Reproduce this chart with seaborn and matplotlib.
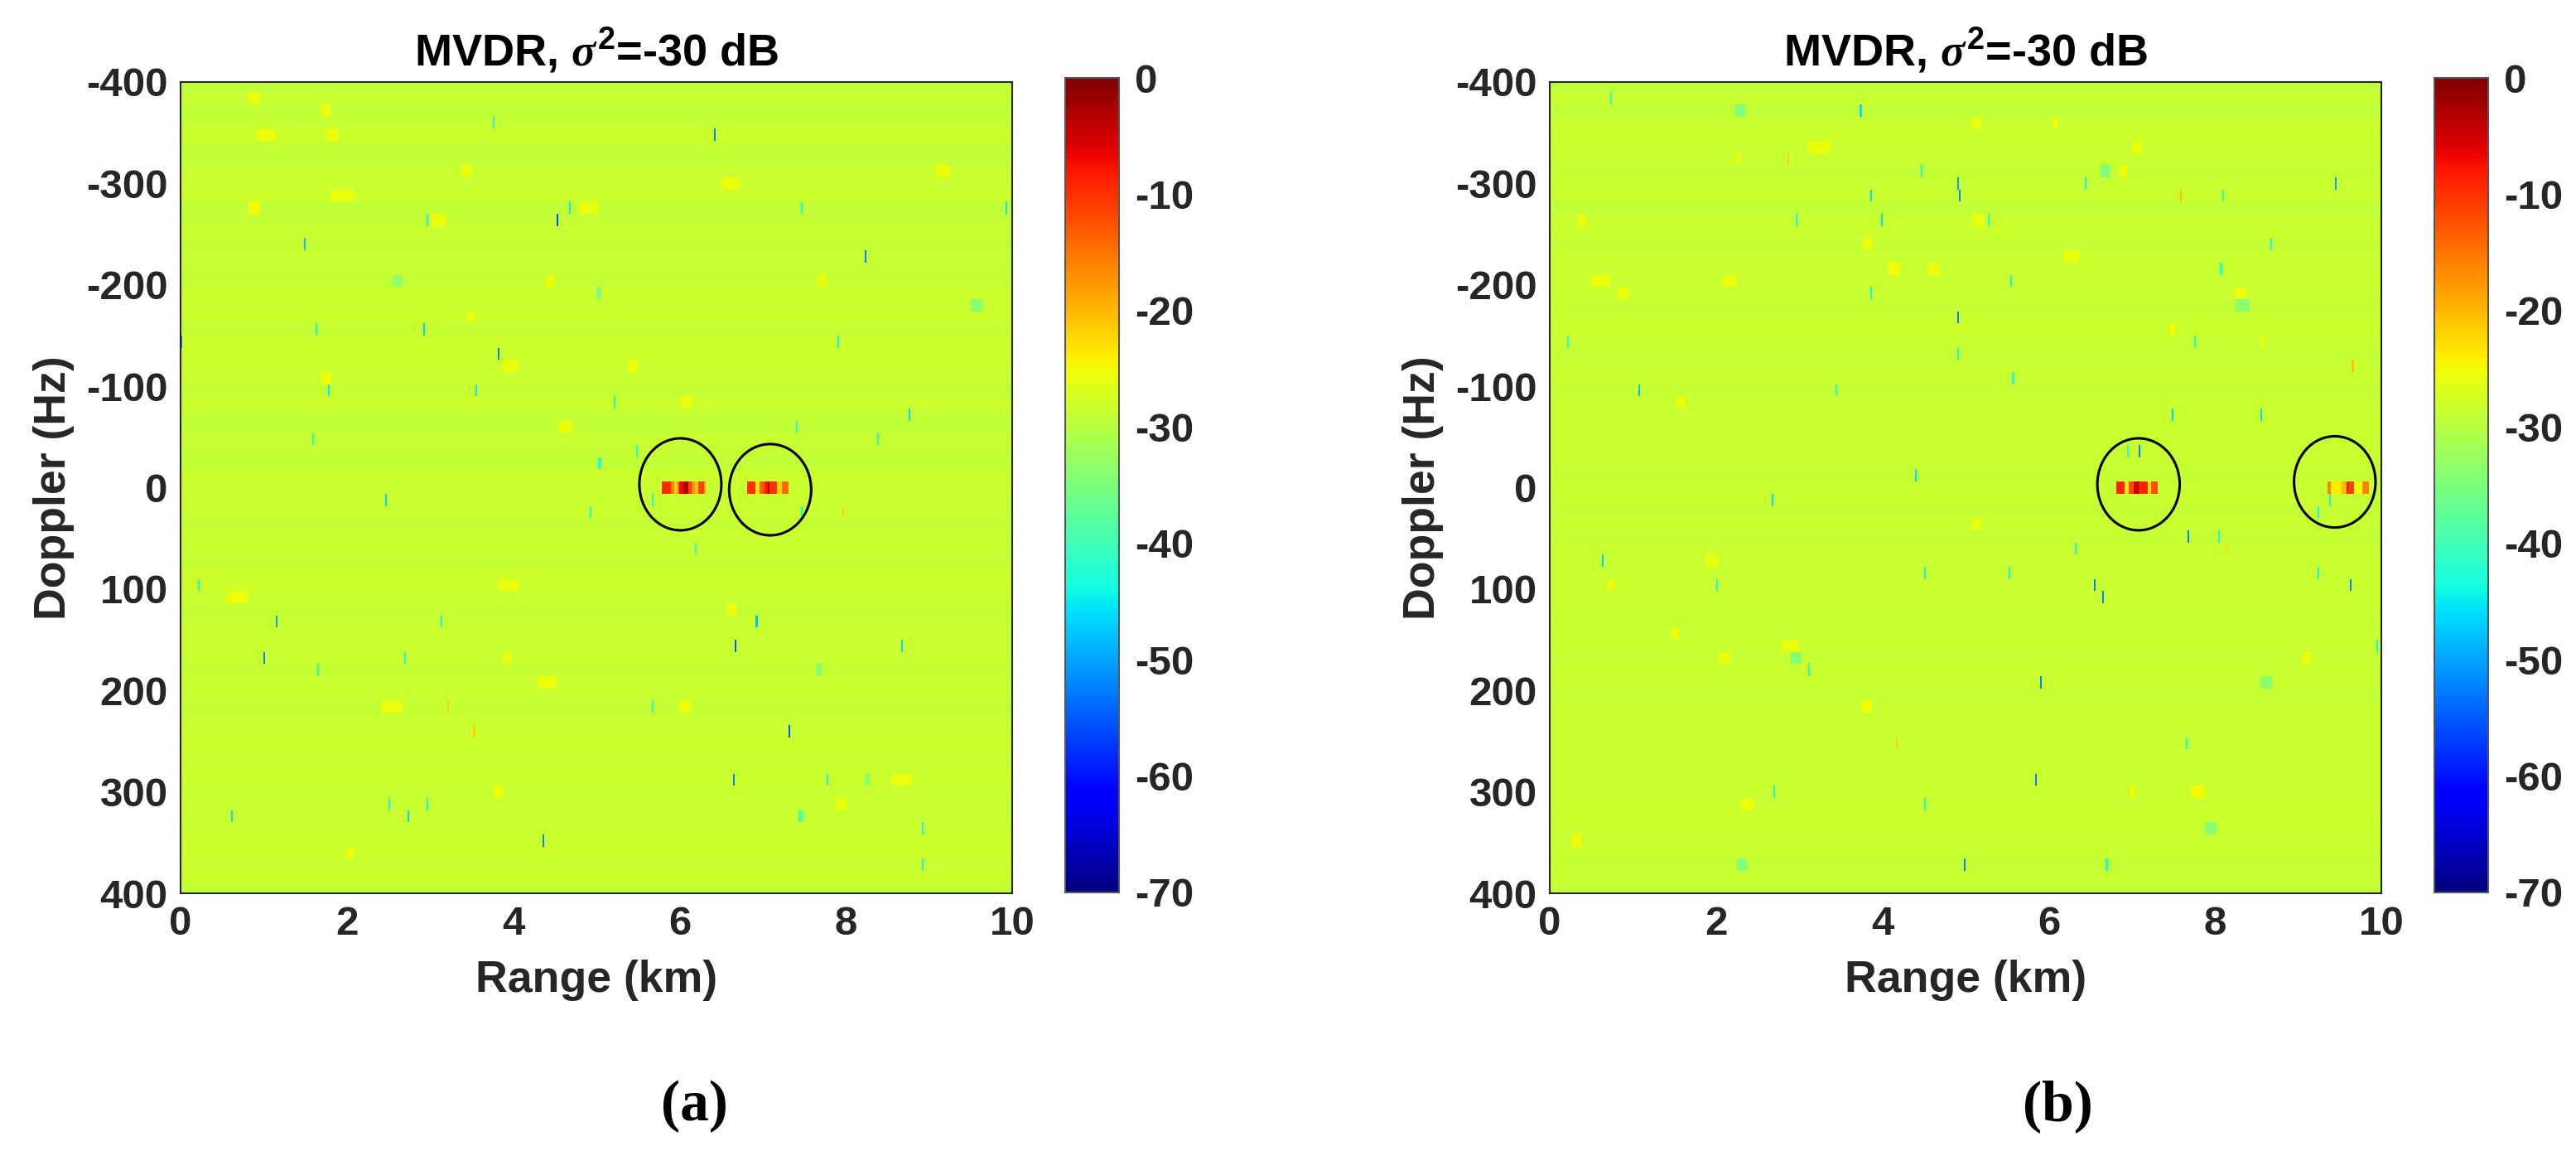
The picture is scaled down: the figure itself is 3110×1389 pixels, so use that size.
import numpy as np
import matplotlib
matplotlib.use("Agg")
import matplotlib.pyplot as plt
from matplotlib.patches import Ellipse
import seaborn as sns

# Values are estimates. The noise floor cannot be read
# cell by cell, so it is row levels plus the patches and specks that could be seen.
doppler_rows = [12 * k for k in range(-33, 34)]
n_cols = 480

row_levels_a = [-29.5, -28.5, -29, -28.8, -28.2, -28.8, -29, -28.6, -28.6, -28.3, -29, -28.8, -28.6,
                -28.8, -28.5, -28.8, -28.8, -28.4, -28.6, -28.4, -28.8, -28.4, -28.2, -28.7, -28.6,
                -28.8, -28.4, -28.8, -29, -28.6, -28.8, -29, -28.4, -28.5, -28.6, -28.6, -28.8, -28.5,
                -28.7, -28.8, -28.4, -28.2, -28.7, -28.9, -28.7, -28.6, -28.7, -28.6, -28.8, -28.5,
                -28.7, -28.8, -28.5, -28.6, -28.4, -28.6, -28.6, -28.3, -28.5, -28.6, -28.7, -28.5,
                -28.4, -28.4, -28.6, -28.4, -29.2]
row_levels_b = [-29.5, -28.6, -29, -28.7, -28.4, -28.5, -28.6, -28.8, -28.5, -28.7, -29, -28.7, -28.4,
                -28.8, -28.6, -28.7, -28.5, -28.5, -28.8, -28.6, -28.4, -28.6, -28.8, -28.7, -28.5,
                -28.8, -28.5, -28.7, -28.5, -28.7, -28.7, -28.7, -28.9, -28.6, -28.6, -28.8, -28.7,
                -28.9, -28.6, -28.7, -28.7, -28.7, -28.5, -28.5, -28.8, -28.7, -28.6, -28.8, -28.6,
                -28.7, -28.8, -28.5, -28.6, -28.7, -28.6, -28.6, -28.6, -28.7, -28.5, -28.6, -28.4,
                -28.7, -28.6, -28.6, -28.8, -28.5, -29.2]

# (km start, km end, doppler, dB)
patches_a = [(0.83, 0.96, -388, -25.5), (1.69, 1.82, -375, -25.5), (0.92, 1.15, -352, -25.5),
             (1.75, 1.91, -352, -25.5), (3.38, 3.51, -317, -25.5), (9.09, 9.25, -317, -25.5),
             (1.82, 2.10, -293, -25.5), (0.83, 0.96, -281, -25), (4.81, 5.04, -281, -25.5),
             (3.00, 3.19, -258, -25.5), (6.50, 6.73, -305, -25.5), (3.89, 4.08, -117, -25.5),
             (5.39, 5.52, -117, -25.5), (1.69, 1.82, -106, -25), (4.56, 4.72, -58, -25.5),
             (6.03, 6.15, -82, -25.5), (4.40, 4.50, -199, -25.5), (7.65, 7.78, -199, -25.5),
             (3.44, 3.54, -164, -25.5), (2.55, 2.68, -199, -33), (5.00, 5.07, -188, -35),
             (9.50, 9.66, -176, -34), (3.76, 3.89, 304, -25.5), (7.88, 8.03, 316, -25.5),
             (3.83, 4.08, 93, -25.5), (6.57, 6.70, 117, -25.5), (0.57, 0.83, 105, -25.5),
             (2.42, 2.68, 222, -25.5), (6.00, 6.15, 222, -25.5), (8.55, 8.80, 293, -25.5),
             (1.98, 2.10, 363, -25.5), (3.89, 3.99, 163, -25.5), (4.30, 4.53, 187, -25.5),
             (8.23, 8.30, 293, -34), (7.43, 7.50, 328, -35), (7.65, 7.72, 176, -35)]
patches_b = [(6.86, 6.95, -317, -25), (3.12, 3.38, -340, -25.5), (2.23, 2.30, -329, -25),
             (2.10, 2.26, -209, -25.5), (4.08, 4.21, -211, -25), (4.56, 4.69, -211, -25.5),
             (0.51, 0.73, -199, -25.5), (6.19, 6.38, -223, -25.5), (5.10, 5.23, -258, -25.5),
             (0.35, 0.45, -258, -25.5), (3.76, 3.89, -235, -25.5), (0.83, 0.96, -188, -25.5),
             (8.23, 8.39, -188, -25.5), (7.02, 7.14, -340, -25.5), (6.06, 6.12, -364, -25),
             (5.10, 5.20, -364, -25.5), (7.46, 7.53, -152, -25), (8.55, 8.60, -141, -25),
             (1.53, 1.63, -82, -25.5), (2.23, 2.36, -375, -35), (6.63, 6.73, -317, -35),
             (8.26, 8.42, -176, -34), (0.70, 0.80, 93, -25.5), (1.88, 2.04, 70, -25.5),
             (5.10, 5.20, 35, -25.5), (3.76, 3.89, 211, -25), (2.81, 3.00, 152, -25.5),
             (2.04, 2.17, 163, -25.5), (7.72, 7.88, 304, -25), (6.98, 7.05, 304, -25),
             (0.29, 0.38, 351, -25), (9.06, 9.18, 163, -25.5), (1.47, 1.56, 140, -25.5),
             (2.30, 2.46, 316, -25.5), (2.26, 2.39, 375, -35), (7.88, 8.03, 340, -34),
             (8.55, 8.70, 187, -34), (2.90, 3.03, 163, -35)]

# (km, doppler, dB)
specks_a = [(6.43, -352, -52), (4.67, -281, -45), (4.54, -258, -56), (2.97, -258, -44), (1.48, -235, -48),
            (8.23, -223, -52), (2.93, -153, -47), (1.63, -153, -44), (3.83, -129, -52), (0.01, -141, -52),
            (1.79, -94, -45), (3.55, -94, -45), (8.76, -70, -46), (7.40, -58, -42), (1.59, -47, -43),
            (5.04, -23, -42), (3.77, -364, -42), (7.91, -141, -44), (9.92, -281, -45), (7.46, -281, -44),
            (2.47, 12, -47), (1.15, 129, -50), (3.14, 129, -44), (6.92, 129, -48), (1.02, 163, -52),
            (2.70, 163, -44), (8.67, 152, -46), (6.68, 152, -55), (5.68, 211, -42), (7.33, 234, -55),
            (2.74, 328, -46), (0.62, 328, -46), (4.37, 351, -52), (8.93, 339, -44), (8.92, 375, -44),
            (0.22, 93, -44), (1.66, 176, -43), (6.65, 293, -52), (7.78, 293, -44), (2.52, 316, -44),
            (2.97, 316, -43), (7.45, 328, -42), (3.22, 211, -22), (3.54, 246, -22),
            (5.22, -82, -43), (5.05, -23, -43), (8.38, -48, -43), (7.46, 23, -44), (7.96, 23, -22),
            (6.20, 58, -42), (4.92, 23, -43), (5.48, -35, -42), (5.67, 12, -42)]
specks_b = [(2.97, -258, -44), (8.67, -246, -44), (4.91, -305, -50), (6.44, -305, -44), (3.86, -293, -46),
            (8.10, -293, -43), (4.92, -293, -52), (9.44, -305, -50), (3.99, -270, -46), (5.29, -258, -43),
            (8.07, -211, -43), (5.55, -199, -44), (3.86, -188, -44), (4.91, -164, -52), (4.91, -129, -44),
            (0.21, -141, -43), (7.75, -141, -44), (3.44, -94, -42), (1.08, -94, -48), (5.58, -106, -43),
            (7.10, -35, -52), (6.95, -35, -42), (4.41, -12, -46), (0.73, -388, -42), (3.73, -375, -46),
            (4.46, -317, -44), (7.60, -293, -21), (2.87, -329, -22), (9.66, -117, -21),
            (5.84, 293, -52), (2.67, 11, -46), (9.38, 11, -44), (0.64, 70, -47), (4.50, 82, -44),
            (5.54, 82, -44), (9.23, 82, -44), (6.56, 93, -52), (9.63, 93, -52), (2.02, 93, -44),
            (6.65, 105, -52), (3.11, 175, -44), (9.95, 152, -44), (5.90, 197, -52), (2.69, 305, -44),
            (4.50, 316, -43), (4.99, 375, -52), (6.70, 375, -44), (7.67, 46, -52), (8.05, 46, -44),
            (7.65, 252, -44), (4.18, 257, -22),
            (7.48, -70, -47), (8.56, -70, -46), (9.23, 23, -44), (8.13, 58, -23), (6.33, 58, -43)]

# target cells at doppler 0: (km start, km end, dB)
targets_a = [(5.80, 5.90, -9.5), (5.90, 5.93, -16), (5.93, 5.97, -22), (5.97, 6.01, -15), (6.01, 6.05, -7),
             (6.05, 6.10, -3), (6.10, 6.15, -11), (6.15, 6.19, -17), (6.19, 6.23, -21), (6.23, 6.29, -11),
             (6.29, 6.31, -18), (6.82, 6.92, -10), (6.92, 6.96, -24), (6.96, 7.02, -13), (7.02, 7.06, -8),
             (7.06, 7.08, -2), (7.08, 7.17, -10), (7.17, 7.22, -22), (7.22, 7.31, -14)]
targets_b = [(6.82, 6.92, -9), (6.92, 6.95, -24), (6.95, 7.03, -12), (7.03, 7.07, -6), (7.07, 7.09, -2),
             (7.09, 7.18, -9), (7.18, 7.22, -23), (7.22, 7.32, -12), (9.36, 9.40, -16), (9.40, 9.53, -24),
             (9.53, 9.58, -20), (9.58, 9.61, -8), (9.61, 9.66, -11), (9.66, 9.78, -25), (9.78, 9.85, -16)]

# km, doppler, km width, doppler height
circles_a = [(6.01, -3.3, 0.986, 90.7), (7.09, 2, 0.986, 90)]
circles_b = [(7.08, -3.3, 0.99, 90.7), (9.44, -5.7, 0.98, 90)]

range_ticks = [0, 2, 4, 6, 8, 10]
doppler_ticks = [-400, -300, -200, -100, 0, 100, 200, 300, 400]
cbar_ticks = [0, -10, -20, -30, -40, -50, -60, -70]
title = r"MVDR, $\mathit{\sigma}^{2}$=-30 dB"

W, H = 3110, 1389
DARK = "#262626"

sns.set_theme(style="white")
plt.rcParams['font.family'] = ['Liberation Sans', 'DejaVu Sans']
plt.rcParams['font.weight'] = 'bold'
plt.rcParams['axes.unicode_minus'] = False
plt.rcParams['mathtext.fontset'] = 'custom'
plt.rcParams['mathtext.it'] = 'Liberation Serif:italic'
plt.rcParams['mathtext.rm'] = 'Liberation Sans:bold'
plt.rcParams['mathtext.default'] = 'regular'


def km_col(km):
    return km / 10 * n_cols


def dop_row(d):
    return (d + 396) / 12 + 0.5


def box(x0, y0, x1, y1):
    return [x0 / W, 1 - y1 / H, (x1 - x0) / W, (y1 - y0) / H]


def build(levels, patches, specks, targets):
    z = np.tile(np.array(levels)[:, None], (1, n_cols))
    for a, b, d, v in patches:
        z[round(d / 12) + 33, int(km_col(a)):int(km_col(b))] = v
    for km, d, v in specks:
        z[round(d / 12) + 33, min(int(km_col(km)), n_cols - 1)] = v
    for a, b, v in targets:
        z[33, int(round(km_col(a))):int(round(km_col(b)))] = v
    return z


def panel(fig, x0, levels, patches, specks, targets, circles, tag, tag_x):
    ax = fig.add_axes(box(x0, 99, x0 + 1004, 1078))
    cax = fig.add_axes(box(x0 + 1068, 94, x0 + 1133, 1077))
    z = build(levels, patches, specks, targets)
    sns.heatmap(z, ax=ax, cbar_ax=cax, cmap="jet", vmin=-70, vmax=0, xticklabels=False, yticklabels=False,
                cbar_kws={"ticks": cbar_ticks}, rasterized=True)
    ax.set_xlim(0, n_cols)
    ax.set_ylim(dop_row(400), dop_row(-400))
    ax.set_xticks([km_col(v) for v in range_ticks], [str(v) for v in range_ticks])
    ax.set_yticks([dop_row(v) for v in doppler_ticks], [str(v) for v in doppler_ticks], rotation=0)
    ax.tick_params(direction="in", length=7.2, width=1.4, color=DARK, labelsize=35.5, labelcolor=DARK,
                   top=True, right=True, bottom=True, left=True, pad=11)
    for s in ax.spines.values():
        s.set_visible(True)
        s.set_color(DARK)
        s.set_linewidth(1.5)
    for km, d, w, h in circles:
        ax.add_patch(Ellipse((km_col(km), dop_row(d)), w * n_cols / 10, h / 12, fill=False, ec="black", lw=2.2))
    ax.set_xlabel("Range (km)", fontsize=38.6, fontweight="bold", color=DARK, labelpad=14)
    ax.set_ylabel("Doppler (Hz)", fontsize=38.6, fontweight="bold", color=DARK, labelpad=10)
    ax.set_title(title, fontsize=39, fontweight="bold", color="black", pad=14)

    cb = ax.collections[0].colorbar
    cb.outline.set_linewidth(1.5)
    cb.outline.set_edgecolor("#555555")
    cax.tick_params(direction="in", length=7.2, width=1.2, color=DARK, labelsize=35.5, labelcolor=DARK, pad=14,
                    right=True)
    fig.text(tag_x / W, 1 - 1335 / H, tag, family="Liberation Serif", fontsize=50, fontweight="bold",
             color="black", ha="center", va="center")


fig = plt.figure(figsize=(W / 100, H / 100), dpi=100, facecolor="white")
panel(fig, 218, row_levels_a, patches_a, specks_a, targets_a, circles_a, "(a)", 838)
panel(fig, 1871, row_levels_b, patches_b, specks_b, targets_b, circles_b, "(b)", 2484)
fig.savefig("out.png", dpi=100)
